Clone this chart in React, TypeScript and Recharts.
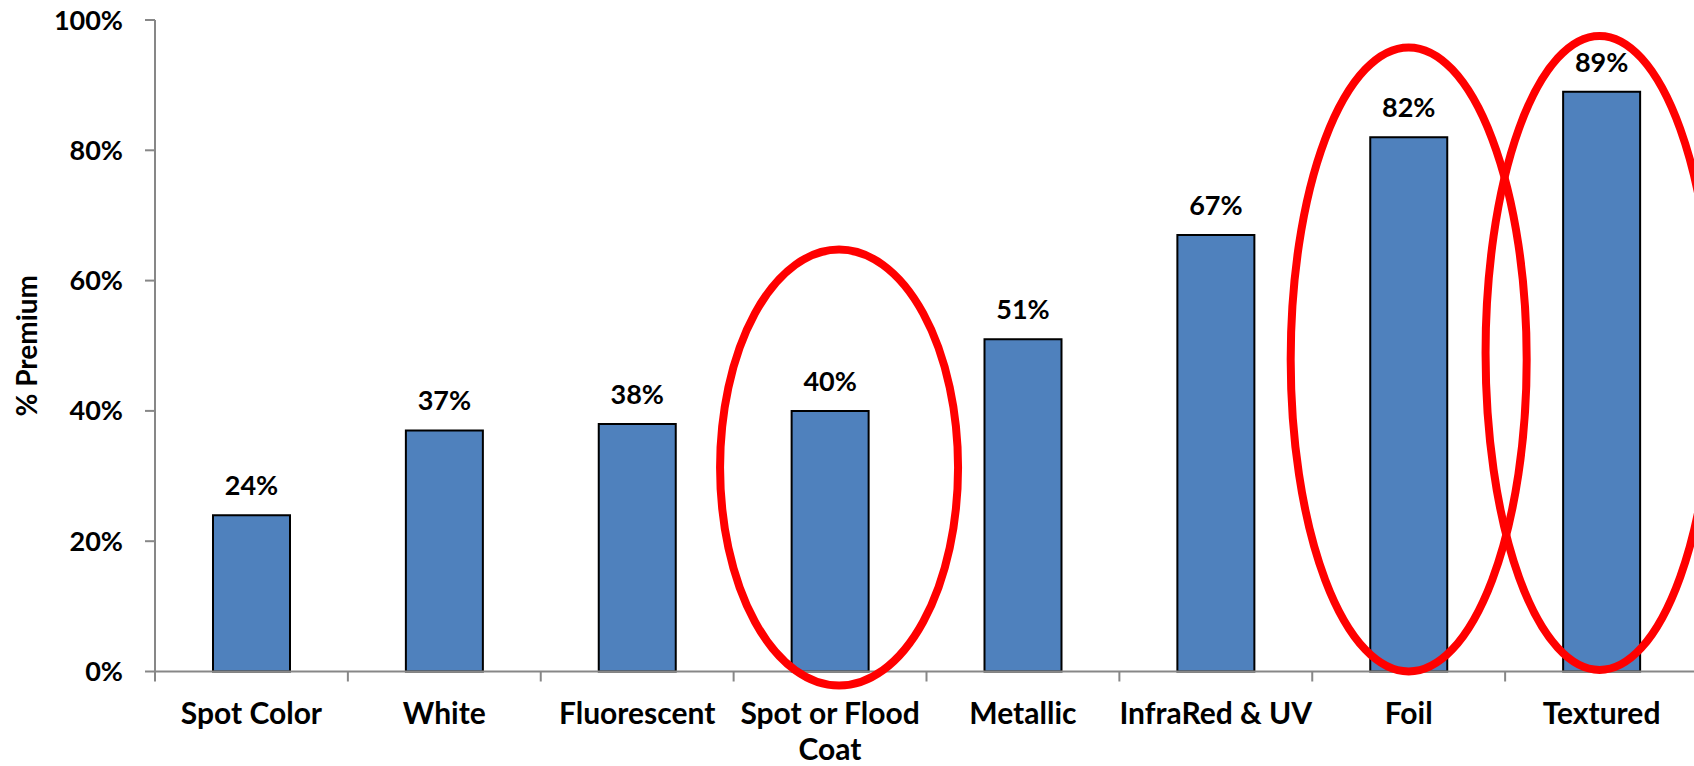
import React from 'react';
import { BarChart, Bar, XAxis, YAxis, LabelList, ReferenceDot } from 'recharts';

const categories = [
  'Spot Color',
  'White',
  'Fluorescent',
  'Spot or Flood Coat',
  'Metallic',
  'InfraRed & UV',
  'Foil',
  'Textured',
];
const premiums = [24, 37, 38, 40, 51, 67, 82, 89];
const yTicks = [0, 20, 40, 60, 80, 100];

// categories ringed in red, and the % level each ring is centred on
const circled = ['Spot or Flood Coat', 'Foil', 'Textured'];
const circleCentres = [31.3, 47.9, 48.9];

const FONT = 'Lato, "Open Sans", sans-serif';
const NUM_SIZE = 27;
const LABEL_SIZE = 30;
const AXIS_GREY = '#878787';
const BAR_BLUE = '#4F81BD';

// ring sizes in px (rx, ry) and a small horizontal nudge
const RING_STYLE = [
  { rx: 119, ry: 218, dx: 9 },
  { rx: 118, ry: 312, dx: 0 },
  { rx: 114, ry: 317, dx: -2 },
];

const data = categories.map((name, i) => ({ name, premium: premiums[i] }));

// greedy word wrap by character count, long category names go on two lines
const wrap = (label: string, max = 14) => {
  const lines: string[] = [];
  let cur = '';
  label.split(' ').forEach((w) => {
    const next = cur ? `${cur} ${w}` : w;
    if (next.length > max && cur) {
      lines.push(cur);
      cur = w;
    } else {
      cur = next;
    }
  });
  if (cur) lines.push(cur);
  return lines;
};

const CategoryTick = (props: any) => {
  const { x, y, payload, index, visibleTicksCount, width } = props;
  const half = payload?.offset ?? width / visibleTicksCount / 2;
  const left = x - half;
  const right = x + half;
  return (
    <g>
      <line x1={left} y1={y} x2={left} y2={y + 10} stroke={AXIS_GREY} strokeWidth={2} />
      {index === visibleTicksCount - 1 && (
        <line x1={right} y1={y} x2={right} y2={y + 10} stroke={AXIS_GREY} strokeWidth={2} />
      )}
      <text
        x={x}
        y={y + 52}
        textAnchor="middle"
        fill="#000"
        style={{ fontFamily: FONT, fontSize: LABEL_SIZE, fontWeight: 700 }}
      >
        {wrap(payload.value).map((line, i) => (
          <tspan key={i} x={x} dy={i === 0 ? 0 : 36}>
            {line}
          </tspan>
        ))}
      </text>
    </g>
  );
};

const AxisTitle = (props: any) => {
  const { viewBox } = props;
  const cx = viewBox.x + 37;
  const cy = viewBox.y + viewBox.height / 2;
  return (
    <text
      x={cx}
      y={cy}
      transform={`rotate(-90, ${cx}, ${cy})`}
      textAnchor="middle"
      fill="#000"
      style={{ fontFamily: FONT, fontSize: 28, fontWeight: 700 }}
    >
      % Premium
    </text>
  );
};

const ring = (i: number) => (props: any) => {
  const s = RING_STYLE[i];
  return (
    <ellipse
      cx={props.cx + s.dx}
      cy={props.cy}
      rx={s.rx}
      ry={s.ry}
      fill="none"
      stroke="#FF0000"
      strokeWidth={8}
    />
  );
};

export default function App() {
  return (
    <div
      style={{
        position: 'absolute',
        left: 0,
        top: 0,
        width: 1694,
        height: 766,
        overflow: 'hidden',
        background: '#fff',
      }}
    >
      <BarChart
        width={1702}
        height={766}
        data={data}
        margin={{ top: 20, right: 4, bottom: 0, left: 0 }}
      >
        <XAxis
          dataKey="name"
          height={94.5}
          interval={0}
          tickLine={false}
          tickSize={0}
          tickMargin={0}
          axisLine={{ stroke: AXIS_GREY, strokeWidth: 2 }}
          tick={<CategoryTick />}
        />
        <YAxis
          width={155}
          domain={[0, 100]}
          ticks={yTicks}
          interval={0}
          tickSize={10}
          tickMargin={22}
          tickFormatter={(v) => `${v}%`}
          axisLine={{ stroke: AXIS_GREY, strokeWidth: 2 }}
          tickLine={{ stroke: AXIS_GREY, strokeWidth: 2 }}
          tick={{ fill: '#000', fontSize: NUM_SIZE, fontWeight: 700, fontFamily: FONT }}
          label={<AxisTitle />}
        />
        <Bar
          dataKey="premium"
          barSize={77}
          fill={BAR_BLUE}
          stroke="#000"
          strokeWidth={2}
          isAnimationActive={false}
        >
          <LabelList
            dataKey="premium"
            position="top"
            offset={20}
            formatter={(v: any) => `${v}%`}
            fill="#000"
            fontSize={NUM_SIZE}
            fontWeight={700}
            fontFamily={FONT}
          />
        </Bar>
        {circled.map((name, i) => (
          <ReferenceDot
            key={name}
            x={name}
            y={circleCentres[i]}
            r={1}
            ifOverflow="visible"
            shape={ring(i)}
          />
        ))}
      </BarChart>
    </div>
  );
}
